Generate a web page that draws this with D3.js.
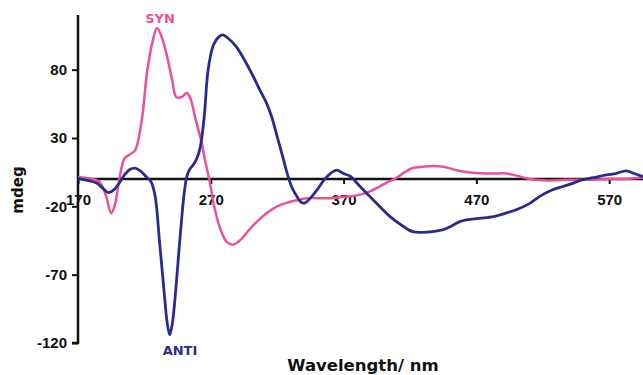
<!DOCTYPE html>
<html>
<head>
<meta charset="utf-8">
<script src="https://cdn.jsdelivr.net/npm/d3@7"></script>
<style>
  body { margin: 0; background: #fff; }
  .tick text { font-family: "Liberation Sans", Arial, sans-serif; font-weight: bold; font-size: 15px; fill: #111; }
</style>
</head>
<body>
<div id="chart"></div>
<script>
// DATA (wavelength nm, mdeg)
var synWave = [170, 178, 186, 191, 195, 198, 201, 205, 209, 213, 218, 222, 226, 229.5, 233, 237, 241, 244, 248, 252, 255, 258, 263, 266, 269, 273, 277, 282, 287, 293, 299, 305, 312, 320, 327, 335, 342, 350, 360, 370, 380, 390, 397, 404, 410, 416, 422, 430, 437, 445, 457, 467, 480, 493, 502, 510, 520, 530, 540, 550, 560, 570, 583, 593, 600];
var synMdeg = [1.5, 0.5, -2, -12, -25, -18, -1, 15, 18, 21, 43, 78, 100, 110.5, 104, 90, 72, 60, 60, 63, 58, 46, 27, 12, -1, -22, -36, -46, -48, -44, -37, -31, -25, -20, -17.5, -15.5, -14, -14, -14, -13, -12, -9, -5.5, -2, 1, 5, 8, 9, 9.5, 9, 6, 4.5, 4, 4, 2, 0, -1, -1, -0.5, -0.5, -0.5, 0, 0, 1, 1];

var antiWave = [170, 177, 184, 189, 193, 197, 201, 205, 209, 213, 217, 221, 225, 228, 231.5, 235, 237, 239, 241, 243, 246.5, 250, 252, 254, 256.5, 259, 262, 265, 268, 272, 276, 279, 283, 289, 296, 302, 307, 312, 316, 320, 324, 327, 331, 335, 338, 341, 345, 350, 355, 360, 365, 370, 375, 381, 387, 395, 405, 414, 422, 430, 437, 445, 452, 458, 470, 483, 492, 500, 510, 518, 527, 535, 543, 550, 558, 568, 575, 583, 589, 595, 600];
var antiMdeg = [0.5, -1, -3, -7, -10, -8, -3, 3, 7, 8, 6, 2, -2, -12, -47, -84, -104, -114, -106, -88, -47, -10, 2, 7, 10, 14, 23, 45, 80, 98, 104, 105.5, 103, 97, 86, 75, 65, 55.5, 45, 31, 17, 6, -6, -13, -17, -17.5, -14, -8, -1, 4, 6.5, 4, 2, -4, -10, -18, -27.5, -34, -38.5, -39, -38.5, -37, -34, -31, -29, -27.5, -25, -22.5, -18, -12.5, -8, -5.5, -3, -0.5, 1, 3, 4, 6, 4, 2, 2];

var xTicks = [170, 270, 370, 470, 570];
var yTicks = [-120, -70, -20, 30, 80];

var synColor = "#e8529c",
    antiColor = "#2b2b8d";

// SET UP
var W = 643, H = 375;
var svg = d3.select("#chart").append("svg")
    .attr("width", W)
    .attr("height", H);

var xScale = d3.scaleLinear().domain([170, 600]).range([78, 649]);
var yScale = d3.scaleLinear().domain([-120, 120]).range([343, 15]);

// Y axis on the left (plain hyphen for negatives, like the original)
var yAxis = svg.append("g")
    .attr("transform", "translate(78,0)")
    .call(d3.axisLeft(yScale).tickValues(yTicks).tickSize(6).tickPadding(5).tickFormat((d) => String(d)));
yAxis.select(".domain").attr("stroke", "#111").attr("stroke-width", 2.5).attr("d", "M0," + yScale(120) + "V" + yScale(-120) + "H-6");
yAxis.selectAll(".tick line").attr("stroke", "#111").attr("stroke-width", 2);

// X axis through zero
var xAxis = svg.append("g")
    .attr("transform", "translate(0," + yScale(0) + ")")
    .call(d3.axisBottom(xScale).tickValues(xTicks).tickSize(5).tickPadding(10).tickFormat((d) => String(d)));
xAxis.select(".domain").attr("stroke", "#111").attr("stroke-width", 2.5).attr("d", "M78,0H" + W);
xAxis.selectAll(".tick line").attr("stroke", "#111").attr("stroke-width", 2);

// Curves
var line = d3.line()
    .x((d) => xScale(d[0]))
    .y((d) => yScale(d[1]))
    .curve(d3.curveCatmullRom);

svg.append("path")
    .datum(synWave.map((w, i) => [w, synMdeg[i]]))
    .attr("fill", "none")
    .attr("stroke", synColor)
    .attr("stroke-width", 2.5)
    .attr("d", line);

svg.append("path")
    .datum(antiWave.map((w, i) => [w, antiMdeg[i]]))
    .attr("fill", "none")
    .attr("stroke", antiColor)
    .attr("stroke-width", 2.8)
    .attr("d", line);

// Labels
svg.append("text")
    .attr("x", 160).attr("y", 23)
    .attr("text-anchor", "middle")
    .style("font-family", "'DejaVu Sans', Verdana, sans-serif")
    .style("font-weight", "bold").style("font-size", "13px")
    .attr("fill", synColor)
    .text("SYN");

svg.append("text")
    .attr("x", 180).attr("y", 355)
    .attr("text-anchor", "middle")
    .style("font-family", "'DejaVu Sans', Verdana, sans-serif")
    .style("font-weight", "bold").style("font-size", "13px")
    .attr("fill", antiColor)
    .text("ANTI");

svg.append("text")
    .attr("transform", "translate(23,190) rotate(-90)")
    .attr("text-anchor", "middle")
    .style("font-family", "'DejaVu Sans', Verdana, sans-serif")
    .style("font-weight", "bold").style("font-size", "15px")
    .attr("fill", "#111")
    .text("mdeg");

svg.append("text")
    .attr("x", 363).attr("y", 371)
    .attr("text-anchor", "middle")
    .style("font-family", "'DejaVu Sans', Verdana, sans-serif")
    .style("font-weight", "bold").style("font-size", "16.5px")
    .attr("fill", "#111")
    .text("Wavelength/ nm");
</script>
</body>
</html>
